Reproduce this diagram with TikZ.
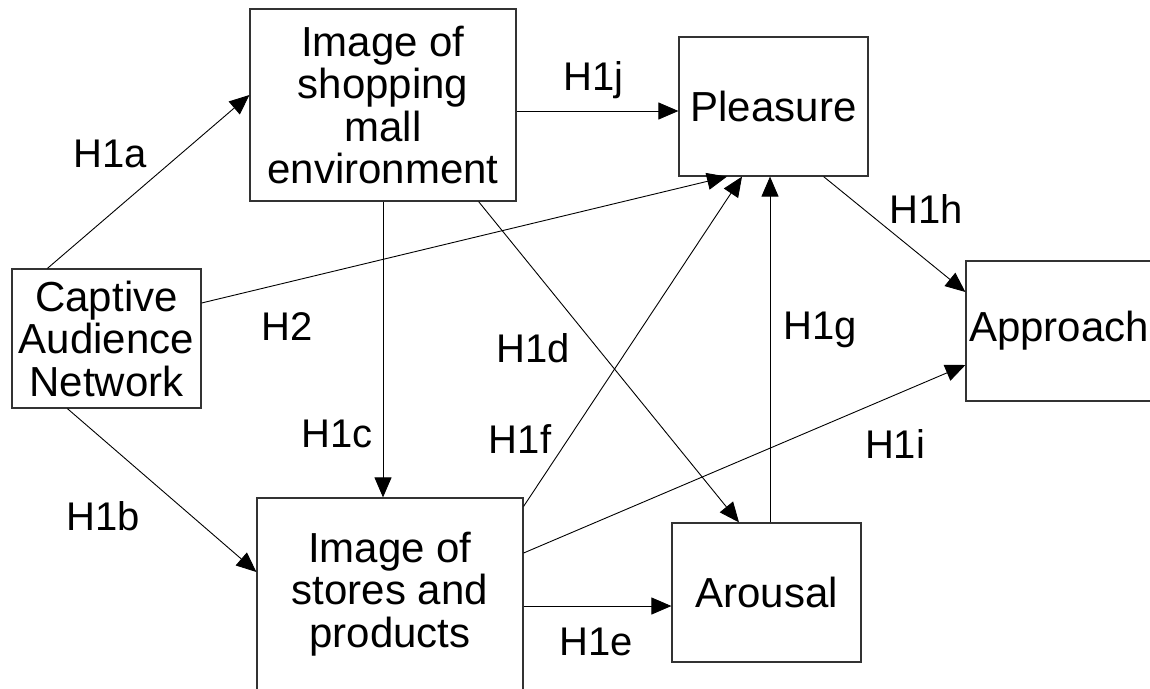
\documentclass[tikz,border=0pt]{standalone}
\usepackage{fontspec}
\setmainfont{Liberation Sans}
\usetikzlibrary{arrows.meta}
\begin{document}
\begin{tikzpicture}[x=1pt,y=-1pt,
  box/.style={draw=black!80, line width=1.2pt, rectangle, inner sep=0pt, align=center, font=\fontsize{42}{42.5}\selectfont},
  conn/.style={line width=0.9pt, -{Triangle[length=20pt,width=17pt]}},
  lbl/.style={font=\fontsize{40}{42}\selectfont, anchor=base, inner sep=0pt}]
\useasboundingbox (0,0) rectangle (1150,688);
\clip (0,0) rectangle (1150,688);
\fill[white] (0,0) rectangle (1150,688);
% boxes
\node[box, minimum width=266pt, minimum height=192pt] (mall) at (383,105) {Image of\\shopping\\mall\\environment};
\node[box, minimum width=189pt, minimum height=139pt] (pleas) at (773.5,106.5) {Pleasure};
\node[box, minimum width=186pt, minimum height=140pt] (appr) at (1059,331) {Approach};
\node[box, minimum width=189pt, minimum height=139pt] (cap) at (106.5,338.5) {Captive\\Audience\\Network};
\node[box, minimum width=266pt, minimum height=192pt] (stores) at (390,594) {Image of\\stores and\\products};
\node[box, minimum width=189pt, minimum height=139pt] (arou) at (766.5,592.5) {Arousal};
% connectors
\draw[conn] ([xshift=36pt]cap.north west) -- ([yshift=10pt]mall.west);
\draw[conn] ([yshift=35.5pt]cap.east) -- ([xshift=-46.5pt]pleas.south);
\draw[conn] ([xshift=56pt]cap.south west) -- ([yshift=22pt]stores.west);
\draw[conn] (mall.south) -- (mall.south |- stores.north);
\draw[conn] ([xshift=-38pt]mall.south east) -- ([xshift=-27.5pt]arou.north);
\draw[conn] ([yshift=-6pt]mall.east) -- ([yshift=-6pt]mall.east -| pleas.west);
\draw[conn] ([yshift=-9pt]stores.north east) -- ([xshift=-31.5pt]pleas.south);
\draw[conn] ([xshift=3.5pt]arou.north) -- ([xshift=3.5pt]arou.north |- pleas.south);
\draw[conn] ([xshift=-45pt]pleas.south east) -- ([yshift=39pt]appr.west);
\draw[conn] ([yshift=41pt]stores.east) -- ([yshift=-34pt]appr.west);
\draw[conn] ([yshift=-12pt]stores.east) -- ([yshift=-12pt]stores.east -| arou.west);
% labels
\node[lbl] (la) at (110.5,167) {H1a};
\node[lbl] (lj) at (593.5,90) {H1j};
\node[lbl] (lh) at (926,223) {H1h};
\node[lbl] (l2) at (287,340) {H2};
\node[lbl] (ld) at (533,362) {H1d};
\node[lbl] (lg) at (820,339) {H1g};
\node[lbl] (lc) at (337,447) {H1c};
\node[lbl] (lf) at (520,453) {H1f};
\node[lbl] (li) at (895,458) {H1i};
\node[lbl] (lb) at (103,530) {H1b};
\node[lbl] (le) at (596,655) {H1e};
\end{tikzpicture}
\end{document}
